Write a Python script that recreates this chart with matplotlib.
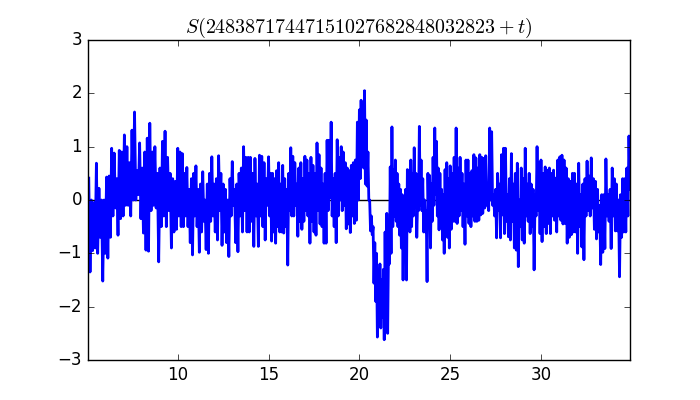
import numpy as np
import matplotlib
matplotlib.use('Agg')
import matplotlib.pyplot as plt

plt.style.use('classic')

# segment limits in t, and S values (alternating high / low)
seg_edges = [5.1, 10.0, 15.0, 20.0, 25.0, 30.0, 34.95]

s_05_10 = [0.41, -1.35, 0.0, -0.95, -0.05, -0.9, 0.69, -1.0, 0.22, -0.7, 0.0, -1.52,
           0.0, -1.0, 0.43, -1.09, 0.45, -0.7, 0.97, -0.3, 0.88, -0.15, 0.4, -0.66,
           0.93, -0.35, 0.9, -0.3, 1.22, -0.1, 1.0, -0.1, 0.7, -0.3, 1.31, 0.0,
           1.65, 0.0, 0.55, 0.1, 1.07, -0.35, 0.6, -0.62, 0.9, -0.94, 1.16, -0.96,
           1.44, -0.2, 0.9, -0.1, 1.0, -0.15, 0.5, -1.16, 0.6, -0.5, 1.1, -0.3,
           1.29, -0.5, 0.8, -0.2, 0.5, -0.9, 0.4, -0.6, 0.35, -0.55]

s_10_15 = [0.97, -0.3, 0.9, -0.5, 0.87, -0.5, 0.5, -0.3, 0.61, -0.5, 0.2, -0.8,
           0.4, -1.03, 0.5, -0.3, 0.64, -0.5, 0.2, -0.98, 0.3, -0.6, 0.53, -0.4,
           0.0, -0.93, 0.3, -1.0, 0.5, -0.4, 0.81, -0.3, 0.3, -0.6, 0.4, -0.75,
           0.83, -0.2, 0.5, -0.85, 0.3, -0.6, 0.2, -0.8, 0.0, -1.06, 0.4, -0.3,
           0.72, -0.1, 0.2, -0.8, 0.3, -0.97, 0.5, -0.3, 0.6, -0.6, 1.0, -0.2,
           0.8, -0.6, 0.8, -0.6, 0.8, -0.4, 0.5, -0.87, 0.78, -0.3, 0.3, -0.87,
           0.84, -0.3, 0.82, -0.5, 0.7, -0.75, 0.4, -0.1]

s_15_20 = [0.81, -0.3, 0.5, -0.77, 0.5, -0.6, 0.4, -0.81, 0.55, -0.5, 0.7, -0.6,
           0.3, -0.6, 0.65, -0.62, 0.4, -0.5, 0.2, -1.22, 0.5, -0.2, 0.98, -0.3,
           0.82, -0.3, 0.7, -0.1, 0.3, -0.68, 0.6, -0.4, 0.7, -0.55, 0.4, -0.4,
           0.82, -0.2, 0.75, -0.3, 0.5, -0.81, 0.8, -0.4, 0.65, -0.6, 0.5, -0.66,
           1.07, -0.2, 0.85, -0.45, 0.6, -0.5, 0.3, -0.81, 0.5, -0.81, 1.12, -0.2,
           1.12, 0.05, 1.46, -0.3, 0.4, -0.5, 0.5, -0.8, 1.13, -0.3, 0.8, 0.0,
           1.0, -0.2, 0.9, -0.1, 0.7, -0.54, 0.6, -0.45, 0.55, -0.61, 0.65, -0.3,
           0.7, -0.44, 0.75, -0.38, 1.46, 0.0]

s_20_25 = [1.69, 0.4, 1.87, 0.7, 1.6, 0.6, 2.05, 0.3, 1.5, 0.26, 0.9, 0.0,
           0.0, -0.58, -0.3, -0.65, -0.5, -1.56, -0.8, -1.9, -1.0, -2.57, -1.3, -2.0,
           -1.2, -2.4, -1.5, -2.2, -1.3, -2.62, -0.6, -2.3, -0.25, -2.5, -0.9, -1.2,
           0.62, -1.0, 1.37, -0.5, 0.57, -0.3,
           0.75, -0.4, 0.5, -0.5, 0.3, -0.66, 0.2, -0.9, 0.1, -1.5, 0.0, -0.5,
           0.2, -1.5, 0.57, -0.5, 0.4, -0.6, 0.75, -0.5, 0.5, -0.3, 0.98, -0.1,
           0.5, -0.7, 0.0, -0.2, 1.38, -0.1, 0.75, -0.2, 0.4, -0.6, 0.0, -0.6,
           -0.2, -1.53, 0.5, -0.3, 0.46, -0.9, 0.3, -0.4, 0.8, -0.1, 1.35, 0.1,
           1.1, -0.3, 0.6, -0.56, 0.5, -0.4, 0.2, -0.75, 0.1, -1.0, 0.57, -0.65,
           0.7, -0.7, 0.4, -0.9]

s_25_30 = [0.64, -0.55, 0.5, -0.4, 0.8, -0.4, 1.35, -0.44, 0.6, -0.3, 0.8, -0.2,
           0.5, -0.5, 0.3, -0.83, 0.75, -0.3, 0.75, -0.44, 0.5, -0.5, 0.55, -0.3,
           0.85, -0.4, 0.79, -0.4, 0.6, -0.38, 0.85, -0.28, 0.8, -0.25, 0.78, -0.15,
           0.83, -0.1, 0.3, -0.2, 1.35, 0.0, 1.28, -0.1, 0.1, -0.3, 0.2, -0.71,
           0.5, -0.2, 0.3, -0.71, 0.85, -0.28, 0.97, -0.63, 0.97, -0.4, 0.1, -0.69,
           0.4, -0.75, 0.87, -0.4, 0.3, -0.9, 0.5, -0.94, 0.69, -1.25, 0.0, -0.5,
           0.6, -0.75, 0.4, -0.81, 0.97, -0.3, 0.3, -0.4, 0.5, -0.63, 0.3, -0.5,
           0.2, -1.31, 0.1, -0.3, 1.0, -0.2, 0.7, -0.63]

s_30_35 = [0.75, -0.78, 0.5, -0.5, 0.62, -0.63, 0.56, -0.44, 0.6, -0.63, 0.5, -0.3,
           0.56, -0.38, 0.41, -0.6, 0.75, -0.3, 0.81, -0.38, 0.84, -0.45, 0.75, -0.44,
           0.6, -0.81, 0.4, -0.7, 0.35, -0.65, 0.5, -0.6, 0.5, -0.6, 0.3, -1.0,
           0.69, -0.5, 0.1, -0.88, 0.3, -1.12, 0.4, -0.3, 0.73, -0.2, 0.45, -0.3,
           0.79, -0.15, 0.4, -0.55, 0.35, -0.73, 0.2, -0.6, -0.1, -1.21, 0.1, -0.98,
           0.1, -0.91, 0.77, -0.3, 0.1, -0.4, 0.2, -0.91, 0.6, -0.3, 0.4, -0.58,
           0.3, -0.58, 0.0, -1.44, 0.1, -0.7, 0.4, -0.6, 0.4, -0.6, 0.6, -0.3,
           1.2, 0.2]

segments = [s_05_10, s_10_15, s_15_20, s_20_25, s_25_30, s_30_35]

t_parts = []
for i, seg in enumerate(segments):
    last = i == len(segments) - 1
    t_parts.append(np.linspace(seg_edges[i], seg_edges[i + 1] - (0.05 if last else 0),
                               len(seg), endpoint=last))
t = np.concatenate(t_parts)
s = np.concatenate(segments)

fig = plt.figure(figsize=(7, 4), dpi=100)
plt.plot(t, 0 * t, 'k')
plt.plot(t, s, 'b', linewidth=2)
plt.xlim(5.03, 34.9)
plt.ylim(-3, 3)
plt.title(r'$S(24838717447151027682848032823+t)$')

plt.savefig('out.png', dpi=100)
